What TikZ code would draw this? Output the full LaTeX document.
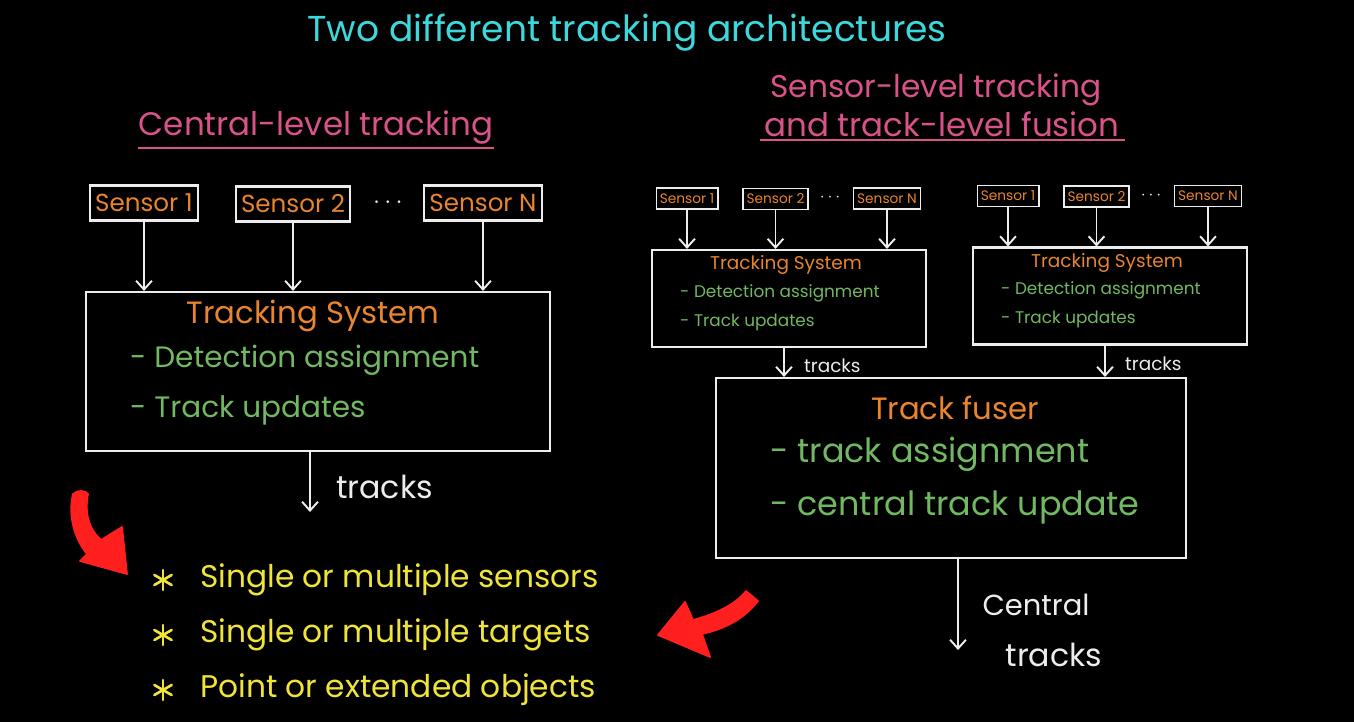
\documentclass[tikz,border=0pt]{standalone}
\usepackage{fontspec}
\setmainfont{Poppins}
\usetikzlibrary{arrows.meta,positioning}
\definecolor{chalkcyan}{HTML}{3CD8DC}
\definecolor{chalkpink}{HTML}{D9528A}
\definecolor{chalkorange}{HTML}{E8852E}
\definecolor{chalkgreen}{HTML}{72B862}
\definecolor{chalkyellow}{HTML}{F0E43A}
\definecolor{chalkred}{HTML}{FF1F1F}
\definecolor{chalkwhite}{HTML}{EDEDED}
\tikzset{
  board/.style={draw=chalkwhite, line width=1.2pt},
  sensorbig/.style={board, text=chalkorange, font=\fontsize{14}{16}\selectfont,
    inner xsep=3pt, inner ysep=2pt, minimum height=0.7cm},
  sensorsmall/.style={board, line width=0.9pt, text=chalkorange,
    font=\fontsize{7.8}{9}\selectfont, inner xsep=2pt, inner ysep=1pt, minimum height=0.42cm},
  feed/.style={draw=chalkwhite, line width=1.1pt, -{Straight Barb[length=5pt,width=9pt]}},
  heading/.style={text=chalkpink, font=\fontsize{18.5}{21}\selectfont},
  systitle/.style={text=chalkorange, font=\fontsize{17.5}{20}\selectfont},
  sysitem/.style={text=chalkgreen, font=\fontsize{16.8}{19}\selectfont, anchor=west},
  fuseritem/.style={text=chalkgreen, font=\fontsize{19}{22}\selectfont, anchor=west},
  smalltitle/.style={text=chalkorange, font=\fontsize{10.5}{12}\selectfont},
  smallitem/.style={text=chalkgreen, font=\fontsize{9.6}{11}\selectfont, anchor=west},
  outlabel/.style={text=chalkwhite, font=\fontsize{18}{21}\selectfont},
  bulletitem/.style={text=chalkyellow, font=\fontsize{17.8}{20}\selectfont, anchor=west},
  starmark/.style={draw=chalkyellow, line width=1.5pt, line cap=round},
  redarrow/.style={fill=chalkred, draw=chalkred, line width=1pt, line join=round}
}
\begin{document}
\begin{tikzpicture}[x=0.02cm, y=-0.02cm]
\fill[black] (0,0) rectangle (1354,722);
\useasboundingbox (0,0) rectangle (1354,722);

\node[text=chalkcyan, font=\fontsize{20.5}{24}\selectfont] (title) at (627,33) {Two different tracking architectures};

% central-level tracking
\node[heading] (lhead) at (316,128) {Central-level tracking};
\draw[chalkpink, line width=1.2pt] (138,148) -- (494,148);

\node[sensorbig] (ls1) at (144,203) {Sensor 1};
\node[sensorbig] (ls2) at (293,204) {Sensor 2};
\node[text=chalkwhite, font=\Large] (ldots) at (388,203) {$\cdots$};
\node[sensorbig] (lsN) at (483,203) {Sensor N};
\node[board, minimum width=9.28cm, minimum height=3.18cm] (lsys) at (318,371.5) {};
\foreach \s in {ls1,ls2,lsN}
  \draw[feed] (\s.south) -- (\s.south |- lsys.north);
\node[systitle] (lsystitle) at (313,316) {Tracking System};
\node[sysitem] (litem1) at (124,360) {- Detection assignment};
\node[sysitem] (litem2) at (124,410) {- Track updates};
\coordinate (lout) at (310,512);
\draw[feed] (lout |- lsys.south) -- (lout);
\node[outlabel, anchor=west] (ltracks) at (330,487) {tracks};

% red arrows
\filldraw[redarrow] (73,494) .. controls (77,490) and (85,490) .. (88,494)
  .. controls (84,515) and (90,530) .. (101,540) -- (122,527) -- (127,574)
  -- (80,561) -- (87,554) .. controls (74,538) and (68,515) .. cycle;
\filldraw[redarrow] (658,635) -- (685,602) -- (693,620)
  .. controls (715,614) and (735,605) .. (746,591) -- (758,601)
  .. controls (742,621) and (723,629) .. (702,634) -- (710,657) -- cycle;

% properties
\foreach \y/\txt [count=\i] in {580/Single or multiple sensors, 635/Single or multiple targets, 690/Point or extended objects}{
  \coordinate (star\i) at (163,\y);
  \foreach \a in {90,30,-30}
    \draw[starmark] (star\i) ++(\a:10) -- ++(\a+180:20);
  \node[bulletitem] (prop\i) at (194,\y) {\txt};
}

% sensor-level tracking and track-level fusion
\node[heading, font=\fontsize{17.8}{21}\selectfont] (rhead1) at (936,90) {Sensor-level tracking};
\node[heading] (rhead2) at (942,124) {and track-level fusion};
\draw[chalkpink, line width=1.2pt] (760,140) -- (1125,140);

\foreach \g/\dx/\dy in {a/0/0, b/321/-2.5}{
  \begin{scope}[shift={(\dx,\dy)}]
    \node[sensorsmall] (\g s1) at (687,198.5) {Sensor 1};
    \node[sensorsmall] (\g s2) at (775.5,199) {Sensor 2};
    \node[text=chalkwhite] (\g dots) at (830,198) {$\cdots$};
    \node[sensorsmall] (\g sN) at (887,198.5) {Sensor N};
    \node[board, minimum width=5.48cm, minimum height=1.94cm] (\g sys) at (789,298.5) {};
    \foreach \s in {s1,s2,sN}
      \draw[feed] (\g\s.south) -- (\g\s.south |- \g sys.north);
    \node[smalltitle] (\g systitle) at (786,265) {Tracking System};
    \node[smallitem] (\g item1) at (674,293) {- Detection assignment};
    \node[smallitem] (\g item2) at (674,322) {- Track updates};
    \coordinate (\g tap) at (784,0);
    \node[text=chalkwhite, font=\fontsize{10.5}{12}\selectfont, anchor=west] (\g tracks) at (798,366) {tracks};
  \end{scope}
}

\node[board, minimum width=9.4cm, minimum height=3.6cm] (fuser) at (951,468) {};
\draw[feed] (atap |- asys.south) -- (atap |- fuser.north);
\draw[feed] (btap |- bsys.south) -- (btap |- fuser.north);
\node[systitle] (fusertitle) at (955,408) {Track fuser};
\node[fuseritem] (fitem1) at (764,454) {- track assignment};
\node[fuseritem] (fitem2) at (764,507) {- central track update};
\coordinate (fout) at (958,650);
\draw[feed] (fout |- fuser.south) -- (fout);
\node[outlabel, font=\fontsize{16.5}{19}\selectfont] (central) at (1036,605) {Central};
\node[outlabel] (ctracks) at (1054,655) {tracks};
\end{tikzpicture}
\end{document}
